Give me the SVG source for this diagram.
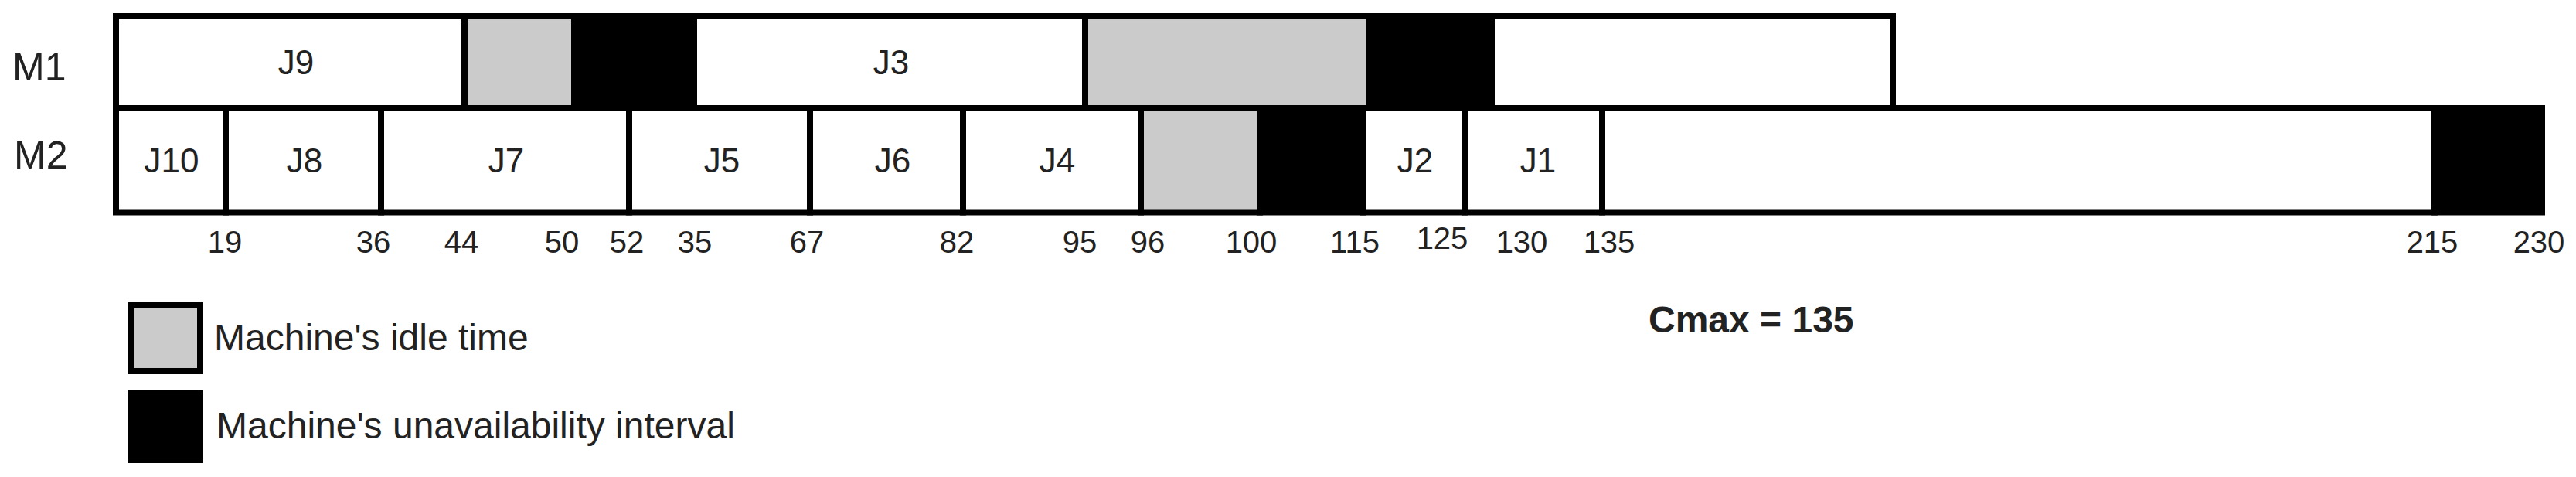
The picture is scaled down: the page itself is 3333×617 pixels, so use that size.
<svg xmlns="http://www.w3.org/2000/svg" width="3333" height="617" viewBox="0 0 3333 617">
<style>
.job{fill:#ffffff;stroke:#000;stroke-width:8}
.idle{fill:#cbcbcb;stroke:#000;stroke-width:8}
.down{fill:#000;stroke:#000;stroke-width:8}
text{font-family:"Liberation Sans",Arial,sans-serif;fill:#222}
.jl{font-size:44px;text-anchor:middle}
.ml{font-size:50px}
.ax{font-size:40px;text-anchor:middle}
.lg{font-size:48px}
.cm{font-size:48px;font-weight:bold}
</style>
<rect width="3333" height="617" fill="#fff"/>
<g id="machine-labels">
<text class="ml" x="16" y="104">M1</text>
<text class="ml" x="18" y="218">M2</text>
</g>
<g id="row-M1">
<g id="m1-J9"><rect class="job" x="150" y="21" width="451" height="119"/><text class="jl" x="383" y="96">J9</text></g>
<g id="m1-idle1"><rect class="idle" x="601" y="21" width="142" height="119"/></g>
<g id="m1-down1"><rect class="down" x="743" y="21" width="155" height="119"/></g>
<g id="m1-J3"><rect class="job" x="898" y="21" width="506" height="119"/><text class="jl" x="1153" y="96">J3</text></g>
<g id="m1-idle2"><rect class="idle" x="1404" y="21" width="368" height="119"/></g>
<g id="m1-down2"><rect class="down" x="1772" y="21" width="158" height="119"/></g>
<g id="m1-free"><rect class="job" x="1930" y="21" width="519" height="119"/></g>
</g>
<g id="row-M2">
<g id="m2-J10"><rect class="job" x="150" y="140" width="142" height="134.5"/><text class="jl" x="222" y="223">J10</text></g>
<g id="m2-J8"><rect class="job" x="292" y="140" width="201" height="134.5"/><text class="jl" x="394" y="223">J8</text></g>
<g id="m2-J7"><rect class="job" x="493" y="140" width="321" height="134.5"/><text class="jl" x="655" y="223">J7</text></g>
<g id="m2-J5"><rect class="job" x="814" y="140" width="234" height="134.5"/><text class="jl" x="934" y="223">J5</text></g>
<g id="m2-J6"><rect class="job" x="1048" y="140" width="198" height="134.5"/><text class="jl" x="1155" y="223">J6</text></g>
<g id="m2-J4"><rect class="job" x="1246" y="140" width="230" height="134.5"/><text class="jl" x="1368" y="223">J4</text></g>
<g id="m2-idle1"><rect class="idle" x="1476" y="140" width="154" height="134.5"/></g>
<g id="m2-down1"><rect class="down" x="1630" y="140" width="134" height="134.5"/></g>
<g id="m2-J2"><rect class="job" x="1764" y="140" width="131" height="134.5"/><text class="jl" x="1831" y="223">J2</text></g>
<g id="m2-J1"><rect class="job" x="1895" y="140" width="178" height="134.5"/><text class="jl" x="1990" y="223">J1</text></g>
<g id="m2-free"><rect class="job" x="2073" y="140" width="1077" height="134.5"/></g>
<g id="m2-down2"><rect class="down" x="3150" y="140" width="139" height="134.5"/></g>
</g>
<g id="axis-labels">
<text class="ax" x="291" y="327">19</text>
<text class="ax" x="483" y="327">36</text>
<text class="ax" x="597" y="327">44</text>
<text class="ax" x="727" y="327">50</text>
<text class="ax" x="811" y="327">52</text>
<text class="ax" x="899" y="327">35</text>
<text class="ax" x="1044" y="327">67</text>
<text class="ax" x="1238" y="327">82</text>
<text class="ax" x="1397" y="327">95</text>
<text class="ax" x="1485" y="327">96</text>
<text class="ax" x="1619" y="327">100</text>
<text class="ax" x="1753" y="327">115</text>
<text class="ax" x="1866" y="322">125</text>
<text class="ax" x="1969" y="327">130</text>
<text class="ax" x="2082" y="327">135</text>
<text class="ax" x="3147" y="327">215</text>
<text class="ax" x="3285" y="327">230</text>
</g>
<g id="cmax"><text class="cm" x="2133" y="430">Cmax = 135</text></g>
<g id="legend-idle">
<rect class="idle" x="170" y="394" width="89" height="86"/>
<text class="lg" x="277" y="453">Machine's idle time</text>
</g>
<g id="legend-down">
<rect x="166" y="505" width="97" height="94" fill="#000"/>
<text class="lg" x="280" y="567">Machine's unavailability interval</text>
</g>
</svg>
